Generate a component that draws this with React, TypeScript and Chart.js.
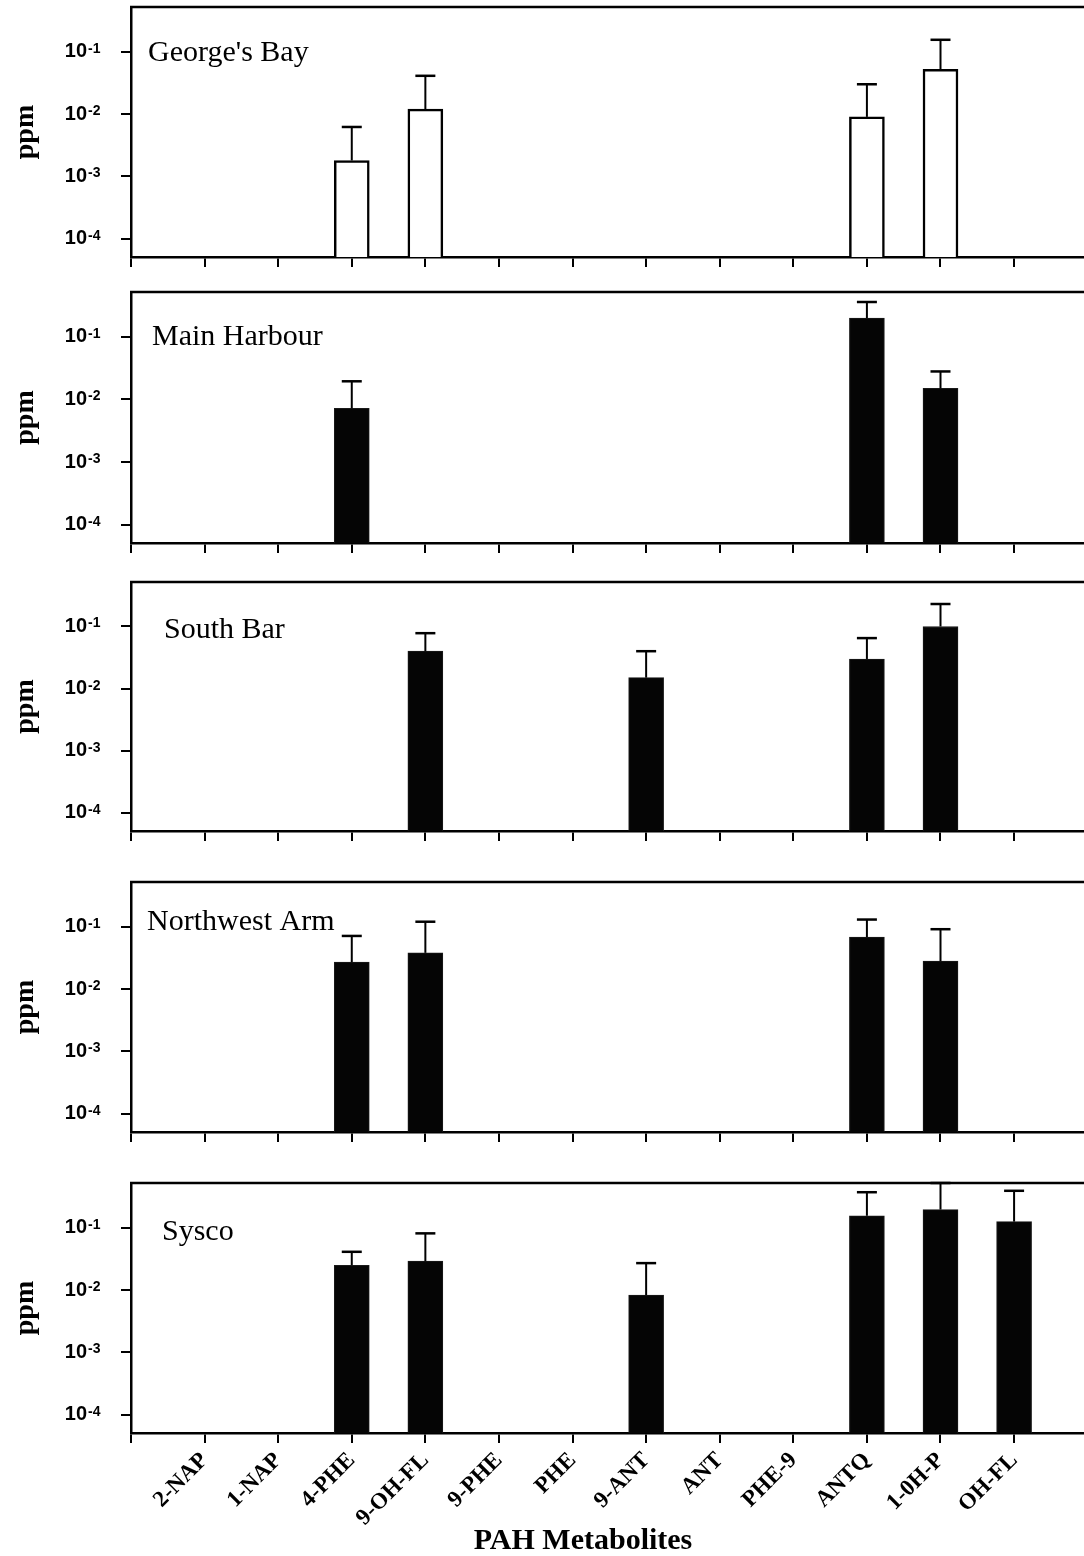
import React, { useEffect, useRef } from 'react';
import { Chart, registerables } from 'chart.js';

Chart.register(...registerables);

// ---------- data ----------
const categories = ['2-NAP', '1-NAP', '4-PHE', '9-OH-FL', '9-PHE', 'PHE', '9-ANT', 'ANT', 'PHE-9', 'ANTQ', '1-0H-P', 'OH-FL'];

const yTickValues = [1e-4, 1e-3, 1e-2, 1e-1];
const yTickBase = '10';
const yTickExponents = ['-4', '-3', '-2', '-1'];

const panelNames = ["George's Bay", 'Main Harbour', 'South Bar', 'Northwest Arm', 'Sysco'];

// mean values (ppm), null = not detected
const georgesBayMean = [null, null, 0.0018, 0.012, null, null, null, null, null, 0.009, 0.052, null];
const georgesBayUpper = [null, null, 0.0062, 0.041, null, null, null, null, null, 0.030, 0.155, null];

const mainHarbourMean = [null, null, 0.0072, null, null, null, null, null, null, 0.20, 0.015, null];
const mainHarbourUpper = [null, null, 0.0195, null, null, null, null, null, null, 0.36, 0.028, null];

const southBarMean = [null, null, null, 0.040, null, null, 0.015, null, null, 0.030, 0.10, null];
const southBarUpper = [null, null, null, 0.078, null, null, 0.040, null, null, 0.065, 0.23, null];

const northwestArmMean = [null, null, 0.027, 0.038, null, null, null, null, null, 0.068, 0.028, null];
const northwestArmUpper = [null, null, 0.071, 0.12, null, null, null, null, null, 0.13, 0.091, null];

const syscoMean = [null, null, 0.025, 0.029, null, null, 0.0083, null, null, 0.155, 0.195, 0.125];
const syscoUpper = [null, null, 0.041, 0.081, null, null, 0.027, null, null, 0.37, 0.52, 0.39];

const xAxisTitle = 'PAH Metabolites';
const yAxisTitle = 'ppm';

// ---------- layout ----------
const Y_MIN = 5.1e-5;
const Y_MAX = 0.52;
const X_MAX = 12.95;
const PAD = 10;
const PAGE_W = 1084;
const PAGE_H = 1556;
const Y_AXIS_W = 131;

type PanelSpec = {
  name: string;
  mean: (number | null)[];
  upper: (number | null)[];
  top: number;
  bottom: number;
  hollow: boolean;
  showX: boolean;
  labelDx: number;
  labelDy: number;
};

const panels: PanelSpec[] = [
  { name: panelNames[0], mean: georgesBayMean, upper: georgesBayUpper, top: 7, bottom: 257, hollow: true, showX: false, labelDx: 17, labelDy: 46 },
  { name: panelNames[1], mean: mainHarbourMean, upper: mainHarbourUpper, top: 292, bottom: 543, hollow: false, showX: false, labelDx: 21, labelDy: 45 },
  { name: panelNames[2], mean: southBarMean, upper: southBarUpper, top: 582, bottom: 831, hollow: false, showX: false, labelDx: 33, labelDy: 48 },
  { name: panelNames[3], mean: northwestArmMean, upper: northwestArmUpper, top: 882, bottom: 1132, hollow: false, showX: false, labelDx: 16, labelDy: 40 },
  { name: panelNames[4], mean: syscoMean, upper: syscoUpper, top: 1183, bottom: 1433, hollow: false, showX: true, labelDx: 31, labelDy: 49 },
];

const SERIF = '"Liberation Serif", "Times New Roman", Times, serif';
const SANS = '"Liberation Sans", Arial, Helvetica, sans-serif';

const decorPlugin = {
  id: 'panelDecor',
  afterDatasetsDraw(chart: any, _args: any, opts: any) {
    const { ctx, chartArea, scales } = chart;
    const ds = chart.data.datasets[0];
    ctx.save();
    // error bars (upper only)
    ctx.strokeStyle = '#000';
    ds.data.forEach((p: any, i: number) => {
      const up = ds.upperValues[i];
      if (up == null) return;
      const x = scales.x.getPixelForValue(p.x);
      const y0 = scales.y.getPixelForValue(p.y);
      const y1 = scales.y.getPixelForValue(up);
      ctx.lineWidth = 2;
      ctx.beginPath();
      ctx.moveTo(x, y0);
      ctx.lineTo(x, y1);
      ctx.stroke();
      ctx.lineWidth = 2.5;
      ctx.beginPath();
      ctx.moveTo(x - 10, y1);
      ctx.lineTo(x + 10, y1);
      ctx.stroke();
    });
    // top frame line
    ctx.lineWidth = 2.5;
    ctx.beginPath();
    ctx.moveTo(chartArea.left - 1, chartArea.top);
    ctx.lineTo(chartArea.right, chartArea.top);
    ctx.stroke();
    // panel label
    ctx.fillStyle = '#000';
    ctx.font = `30px ${SERIF}`;
    ctx.textAlign = 'left';
    ctx.textBaseline = 'middle';
    ctx.fillText(opts.label, chartArea.left + opts.dx, chartArea.top + opts.dy);
    // exponents of the y tick labels (10^n)
    ctx.font = `bold 14px ${SANS}`;
    ctx.textAlign = 'left';
    ctx.textBaseline = 'alphabetic';
    yTickValues.forEach((v, i) => {
      const y = scales.y.getPixelForValue(v);
      ctx.fillText(yTickExponents[i], 88, y + 1);
    });
    // x axis title
    if (opts.xTitle) {
      ctx.font = `bold 30px ${SERIF}`;
      ctx.textAlign = 'center';
      ctx.textBaseline = 'middle';
      ctx.fillText(opts.xTitle, chartArea.left + 452, chart.height - 15);
    }
    ctx.restore();
  },
};

function Panel({ spec }: { spec: PanelSpec }) {
  const ref = useRef<HTMLCanvasElement>(null);
  const plotH = spec.bottom - spec.top;
  const xAxisH = spec.showX ? PAGE_H - spec.bottom : 14;
  const canvasH = PAD + plotH + xAxisH;

  useEffect(() => {
    if (!ref.current) return;
    const points: { x: number; y: number }[] = [];
    const uppers: number[] = [];
    spec.mean.forEach((v, i) => {
      if (v != null) {
        points.push({ x: i + 1, y: v });
        uppers.push(spec.upper[i] as number);
      }
    });

    const chart = new Chart(ref.current, {
      type: 'bar',
      data: {
        datasets: [
          {
            data: points,
            upperValues: uppers,
            backgroundColor: spec.hollow ? '#ffffff' : '#050505',
            borderColor: spec.hollow ? '#000000' : '#1a1a1a',
            borderWidth: spec.hollow ? 2.5 : 1,
            borderSkipped: 'start',
            barThickness: 35,
          } as any,
        ],
      },
      options: {
        responsive: false,
        animation: false,
        devicePixelRatio: 1,
        layout: { padding: { top: PAD, left: 0, right: 0, bottom: 0 } },
        plugins: {
          legend: { display: false },
          tooltip: { enabled: false },
          title: { display: false },
          panelDecor: { label: spec.name, dx: spec.labelDx, dy: spec.labelDy, xTitle: spec.showX ? xAxisTitle : '' },
        } as any,
        scales: {
          x: {
            type: 'linear',
            position: 'bottom',
            min: 0,
            max: X_MAX,
            offset: false,
            grid: { display: true, offset: false, drawOnChartArea: false, drawTicks: true, tickLength: 10, lineWidth: 2, color: '#000' },
            border: { display: true, width: 2.5, color: '#000' },
            afterBuildTicks: (s: any) => {
              s.ticks = [0, ...categories.map((_, i) => i + 1)].map((v) => ({ value: v }));
            },
            afterFit: (s: any) => {
              s.height = xAxisH;
              s.paddingLeft = 0;
              s.paddingRight = 0;
            },
            ticks: {
              display: spec.showX,
              autoSkip: false,
              maxRotation: 45,
              minRotation: 45,
              padding: 4,
              color: '#000',
              font: { family: SERIF, weight: 'bold', size: 23 },
              callback: (v: any) => (v >= 1 && v <= categories.length ? categories[Math.round(v) - 1] : ''),
            },
          },
          y: {
            type: 'logarithmic',
            position: 'left',
            min: Y_MIN,
            max: Y_MAX,
            grid: { display: true, drawOnChartArea: false, drawTicks: true, tickLength: 10, lineWidth: 2, color: '#000' },
            border: { display: true, width: 2.5, color: '#000' },
            afterBuildTicks: (s: any) => {
              s.ticks = yTickValues.map((v) => ({ value: v, major: true }));
            },
            afterFit: (s: any) => {
              s.width = Y_AXIS_W;
              s.paddingTop = 0;
              s.paddingBottom = 0;
            },
            ticks: {
              padding: 34,
              color: '#000',
              font: { family: SANS, weight: 'bold', size: 20 },
              callback: () => yTickBase,
            },
            title: {
              display: true,
              text: yAxisTitle,
              color: '#000',
              font: { family: SERIF, weight: 'bold', size: 28 },
              padding: { top: 9, bottom: 0 },
            },
          },
        },
      } as any,
      plugins: [decorPlugin as any],
    });
    return () => chart.destroy();
  }, []);

  return (
    <canvas
      ref={ref}
      width={PAGE_W}
      height={canvasH}
      style={{ position: 'absolute', left: 0, top: spec.top - PAD, width: PAGE_W, height: canvasH, display: 'block' }}
    />
  );
}

export default function App() {
  return (
    <div style={{ position: 'absolute', left: 0, top: 0, width: PAGE_W, height: PAGE_H, overflow: 'hidden', background: '#fff' }}>
      {panels.map((p) => (
        <Panel key={p.name} spec={p} />
      ))}
    </div>
  );
}
